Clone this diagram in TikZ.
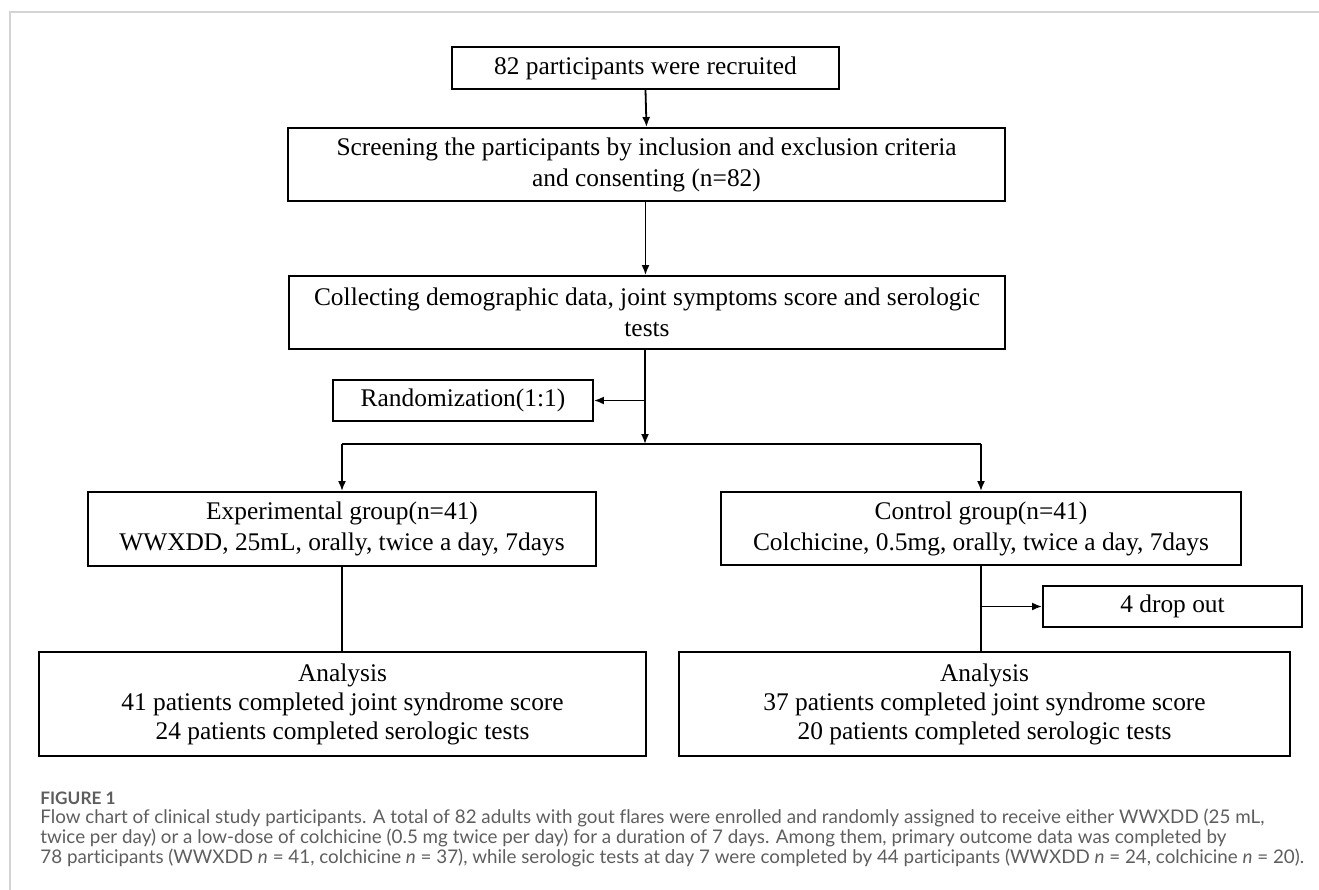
\documentclass[tikz,border=0pt]{standalone}
\usepackage{fontspec}
\setmainfont{Liberation Serif}
\newfontfamily\capfont[Ligatures=NoCommon]{Lato}
\usetikzlibrary{arrows.meta}
\definecolor{capgray}{HTML}{5E5E5E}
\definecolor{framegray}{HTML}{D4D4D4}
\begin{document}
\begin{tikzpicture}[x=0.5pt,y=-0.5pt,
  box/.style={draw=black,line width=0.95pt,inner sep=0pt,align=center,
    font=\fontsize{12.7}{15.5}\selectfont},
  conn/.style={line width=0.9pt},
  arr/.style={conn,-{Latex[length=5pt,width=4pt]}},
  capline/.style={anchor=west,inner sep=0pt,text=capgray,
    font=\capfont\fontsize{9.4}{11}\selectfont}]
\useasboundingbox (0,0) rectangle (1319,890);
\draw[framegray,line width=1pt] (10,890) -- (10,12) -- (1319,12);

\node[box,minimum width=193.5pt,minimum height=21pt] (b1) at (645.5,68) {82 participants were recruited};
\node[box,minimum width=358.5pt,minimum height=36.5pt] (b2) at (646.5,164.5)
  {Screening the participants by inclusion and exclusion criteria\\and consenting (n=82)};
\node[box,minimum width=358pt,minimum height=36.5pt] (b3) at (647,312.5)
  {Collecting demographic data, joint symptoms score and serologic\\tests};
\node[box,minimum width=130pt,minimum height=20.5pt] (rand) at (463,400.5) {Randomization(1:1)};
\node[box,minimum width=254pt,minimum height=37pt] (exp) at (342,529)
  {Experimental group(n=41)\\WWXDD, 25mL, orally, twice a day, 7days};
\node[box,minimum width=260pt,minimum height=36.5pt] (ctrl) at (981,528.5)
  {Control group(n=41)\\Colchicine, 0.5mg, orally, twice a day, 7days};
\node[box,minimum width=129.5pt,minimum height=20.5pt] (drop) at (1172.5,606.5) {4 drop out};
\node[box,minimum width=303.5pt,minimum height=52pt,font=\fontsize{12.7}{14.5}\selectfont] (anaL) at (342.5,704)
  {Analysis\\41 patients completed joint syndrome score\\24 patients completed serologic tests};
\node[box,minimum width=305.5pt,minimum height=52pt,font=\fontsize{12.7}{14.5}\selectfont] (anaR) at (984.5,704)
  {Analysis\\37 patients completed joint syndrome score\\20 patients completed serologic tests};

\coordinate (split) at (645,444);
\coordinate (rj) at (645,400.5);
\coordinate (bl) at (342,444);
\coordinate (brr) at (981,444);
\coordinate (dj) at (981,606.5);

\draw[arr] (b1.south) -- (b2.north);
\draw[arr] (b2.south -| b1.south) -- (b3.north -| b1.south);
\draw[arr] (b3.south -| split) -- (split);
\draw[arr] (rj) -- (rand.east);
\draw[conn] (bl) -- (brr);
\draw[arr] (bl) -- (exp.north -| bl);
\draw[arr] (brr) -- (ctrl.north -| brr);
\draw[conn] (exp.south -| bl) -- (anaL.north -| bl);
\draw[conn] (ctrl.south -| brr) -- (anaR.north -| brr);
\draw[arr] (dj) -- (drop.west);

\node[capline,font=\capfont\bfseries\fontsize{8.6}{10}\selectfont] (fig) at (40,798) {FIGURE 1};
\node[capline] (c1) at (40,818) {Flow chart of clinical study participants. A total of 82 adults with gout flares were enrolled and randomly assigned to receive either WWXDD (25 mL,};
\node[capline] (c2) at (40,838) {twice per day) or a low-dose of colchicine (0.5 mg twice per day) for a duration of 7 days. Among them, primary outcome data was completed by};
\node[capline] (c3) at (40,858) {78 participants (WWXDD \textit{n} = 41, colchicine \textit{n} = 37), while serologic tests at day 7 were completed by 44 participants (WWXDD \textit{n} = 24, colchicine \textit{n} = 20).};
\end{tikzpicture}
\end{document}
